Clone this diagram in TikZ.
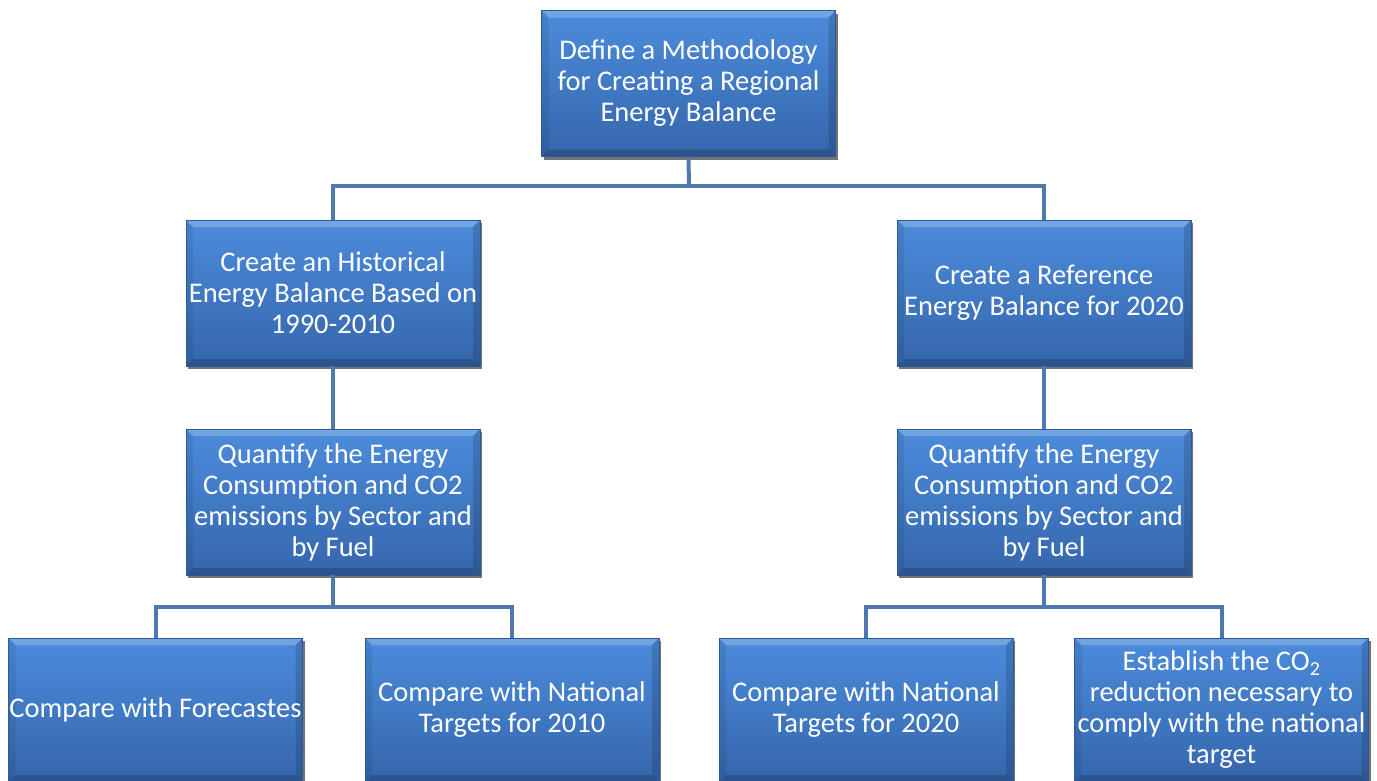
\documentclass[tikz,border=0pt]{standalone}
\usepackage{fontspec}
\setmainfont{Carlito}
\usetikzlibrary{shadows}
\definecolor{boxtop}{HTML}{4C8CDC}
\definecolor{boxbot}{HTML}{3566AC}
\definecolor{boxborder}{HTML}{2D5A96}
\definecolor{conncol}{HTML}{4E78AE}
\tikzset{
  box/.style={draw=boxborder, line width=0.8pt, top color=boxtop, bottom color=boxbot,
    minimum width=294pt, minimum height=146pt, inner sep=0pt, align=center,
    text=white, font=\fontsize{28.5}{31}\selectfont,
    general shadow={fill=black!55, shadow xshift=2pt, shadow yshift=-3pt},
    path picture={
      \fill[white,opacity=0.22] (path picture bounding box.north west) -- (path picture bounding box.north east)
        -- ([xshift=-7pt,yshift=-7pt]path picture bounding box.north east) -- ([xshift=7pt,yshift=-7pt]path picture bounding box.north west) -- cycle;
      \fill[black,opacity=0.18] (path picture bounding box.south west) -- (path picture bounding box.south east)
        -- ([xshift=-7pt,yshift=7pt]path picture bounding box.south east) -- ([xshift=7pt,yshift=7pt]path picture bounding box.south west) -- cycle;
      \fill[black,opacity=0.08] (path picture bounding box.south west) -- (path picture bounding box.north west)
        -- ([xshift=7pt,yshift=-7pt]path picture bounding box.north west) -- ([xshift=7pt,yshift=7pt]path picture bounding box.south west) -- cycle;
      \fill[black,opacity=0.14] (path picture bounding box.south east) -- (path picture bounding box.north east)
        -- ([xshift=-7pt,yshift=-7pt]path picture bounding box.north east) -- ([xshift=-7pt,yshift=7pt]path picture bounding box.south east) -- cycle;
    }},
  conn/.style={draw=conncol, line width=4pt}
}
\begin{document}
\begin{tikzpicture}[x=1pt,y=-1pt]
\useasboundingbox (0,0) rectangle (1377,780);
\coordinate (j1) at (689,186);
\coordinate (j2) at (333,607);
\coordinate (j3) at (1044,607);
\node[box] (top) at (688.5,83.5) {Define a Methodology\\for Creating a Regional\\Energy Balance};
\node[box] (l2a) at (333,293) {Create an Historical\\Energy Balance Based on\\1990-2010};
\node[box] (l2b) at (1044,293) {Create a Reference\\Energy Balance for 2020};
\node[box] (l3a) at (333,502) {Quantify the Energy\\Consumption and CO2\\emissions by Sector and\\by Fuel};
\node[box] (l3b) at (1044,502) {Quantify the Energy\\Consumption and CO2\\emissions by Sector and\\by Fuel};
\node[box, minimum height=144pt] (l4a) at (155.5,710) {Compare with Forecastes};
\node[box, minimum height=144pt] (l4b) at (512,710) {Compare with National\\Targets for 2010};
\node[box, minimum height=144pt] (l4c) at (866,710) {Compare with National\\Targets for 2020};
\node[box, minimum height=144pt] (l4d) at (1221.5,710) {Establish the CO\textsubscript{2}\\reduction necessary to\\comply with the national\\target};
\draw[conn] (top.south) -- (j1);
\draw[conn] (j1) -| (l2a.north);
\draw[conn] (j1) -| (l2b.north);
\draw[conn] (l2a.south) -- (l3a.north);
\draw[conn] (l2b.south) -- (l3b.north);
\draw[conn] (l3a.south) -- (j2);
\draw[conn] (j2) -| (l4a.north);
\draw[conn] (j2) -| (l4b.north);
\draw[conn] (l3b.south) -- (j3);
\draw[conn] (j3) -| (l4c.north);
\draw[conn] (j3) -| (l4d.north);
\end{tikzpicture}
\end{document}
